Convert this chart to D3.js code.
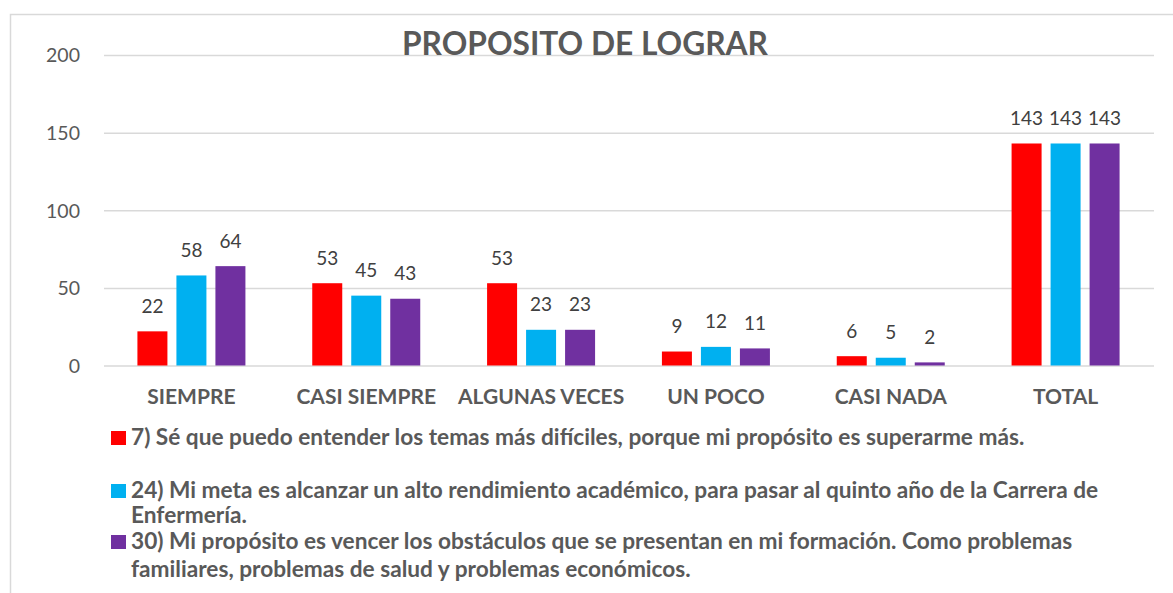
<!DOCTYPE html>
<html>
<head>
<meta charset="utf-8">
<script src="https://cdn.jsdelivr.net/npm/d3@7"></script>
<style>
  html, body { margin: 0; padding: 0; background: #fff; }
  svg { display: block; }
  text { font-family: Lato, "Open Sans", sans-serif; }
</style>
</head>
<body>
<svg id="chart" width="1173" height="593"></svg>
<script>
const title = "PROPOSITO DE LOGRAR";
const categories = ["SIEMPRE", "CASI SIEMPRE", "ALGUNAS VECES", "UN POCO", "CASI NADA", "TOTAL"];
const seriesNames = ["s7", "s24", "s30"];
const series7  = [22, 53, 53, 9, 6, 143];
const series24 = [58, 45, 23, 12, 5, 143];
const series30 = [64, 43, 23, 11, 2, 143];
const seriesColors = ["#FF0000", "#00B0F0", "#7030A0"];
const yTicks = [0, 50, 100, 150, 200];
const legendLines = [
  ["7) Sé que puedo entender los temas más difíciles, porque mi propósito es superarme más."],
  ["24) Mi meta es alcanzar un alto rendimiento académico, para pasar al quinto año de la Carrera de", "Enfermería."],
  ["30) Mi propósito es vencer los obstáculos que se presentan en mi formación. Como problemas", "familiares, problemas de salud y problemas económicos."]
];

const allSeries = [series7, series24, series30];
const svg = d3.select("#chart");

// outer border
svg.append("rect").attr("x", 10.5).attr("y", 14.5).attr("width", 1200).attr("height", 700)
  .attr("fill", "none").attr("stroke", "#D9D9D9").attr("stroke-width", 1.5);

const y = d3.scaleLinear().domain([0, 200]).range([365.5, 55]);
const x0 = d3.scaleBand().domain(categories).range([104, 1153]).paddingInner(0).paddingOuter(0);
const groupW = 108;
const x1 = d3.scaleBand().domain(seriesNames).range([0, groupW]).paddingInner(9 / 39).paddingOuter(0);
const groupOffset = (x0.bandwidth() - groupW) / 2;

// gridlines + y labels
const yAxis = d3.axisLeft(y).tickValues(yTicks).tickSize(-(1154 - 104)).tickPadding(24);
const gy = svg.append("g").attr("transform", "translate(104,0)").call(yAxis);
gy.select(".domain").remove();
gy.selectAll(".tick line").attr("stroke", "#D9D9D9").attr("stroke-width", 1.5);
gy.selectAll(".tick text").attr("fill", "#595959").style("font-size", "19.5px")
  .style("font-family", "Lato, 'Open Sans', sans-serif").attr("dy", "0.35em");

// bars
const groups = svg.append("g").selectAll("g").data(categories).join("g")
  .attr("transform", d => `translate(${x0(d) + groupOffset},0)`);

groups.selectAll("rect").data((c, i) => seriesNames.map((s, j) => ({ s, j, v: allSeries[j][i] })))
  .join("rect")
  .attr("x", d => x1(d.s))
  .attr("width", x1.bandwidth())
  .attr("y", d => y(d.v))
  .attr("height", d => y(0) - y(d.v))
  .attr("fill", d => seriesColors[d.j]);

groups.selectAll("text.val").data((c, i) => seriesNames.map((s, j) => ({ s, j, v: allSeries[j][i] })))
  .join("text").attr("class", "val")
  .attr("x", d => x1(d.s) + x1.bandwidth() / 2)
  .attr("y", d => y(d.v) - 18.5)
  .attr("text-anchor", "middle")
  .attr("fill", "#404040")
  .style("font-size", "19px")
  .text(d => d.v);

// category axis labels
const xAxis = d3.axisBottom(x0).tickSize(0).tickPadding(0);
const gx = svg.append("g").attr("transform", "translate(0,365.5)").call(xAxis);
gx.select(".domain").remove();
gx.selectAll(".tick text").attr("y", 38.5).attr("dy", 0).attr("fill", "#595959")
  .style("font-size", "21px").style("font-weight", "bold")
  .style("font-family", "Lato, 'Open Sans', sans-serif");

// title
svg.append("text").attr("x", 585).attr("y", 55).attr("text-anchor", "middle")
  .attr("fill", "#595959").style("font-size", "32px").style("font-weight", "bold")
  .attr("textLength", 366).attr("lengthAdjust", "spacingAndGlyphs")
  .text(title);

// legend
const legendBase = [[445], [498, 523], [549, 577]];
const lg = svg.append("g");
const legendTexts = [];
legendLines.forEach((lines, i) => {
  lg.append("rect").attr("x", 111).attr("y", legendBase[i][0] - 14).attr("width", 15).attr("height", 14)
    .attr("fill", seriesColors[i]);
  lines.forEach((ln, k) => {
    legendTexts.push(lg.append("text").attr("x", 131).attr("y", legendBase[i][k])
      .attr("fill", "#595959").style("font-size", "18px").style("font-weight", "bold")
      .text(ln));
  });
});
// scale legend font so first line spans its measured width in the reference
const w0 = legendTexts[0].node().getComputedTextLength();
const fs = 18 * 894 / w0;
legendTexts.forEach(t => t.style("font-size", fs + "px"));
</script>
</body>
</html>
